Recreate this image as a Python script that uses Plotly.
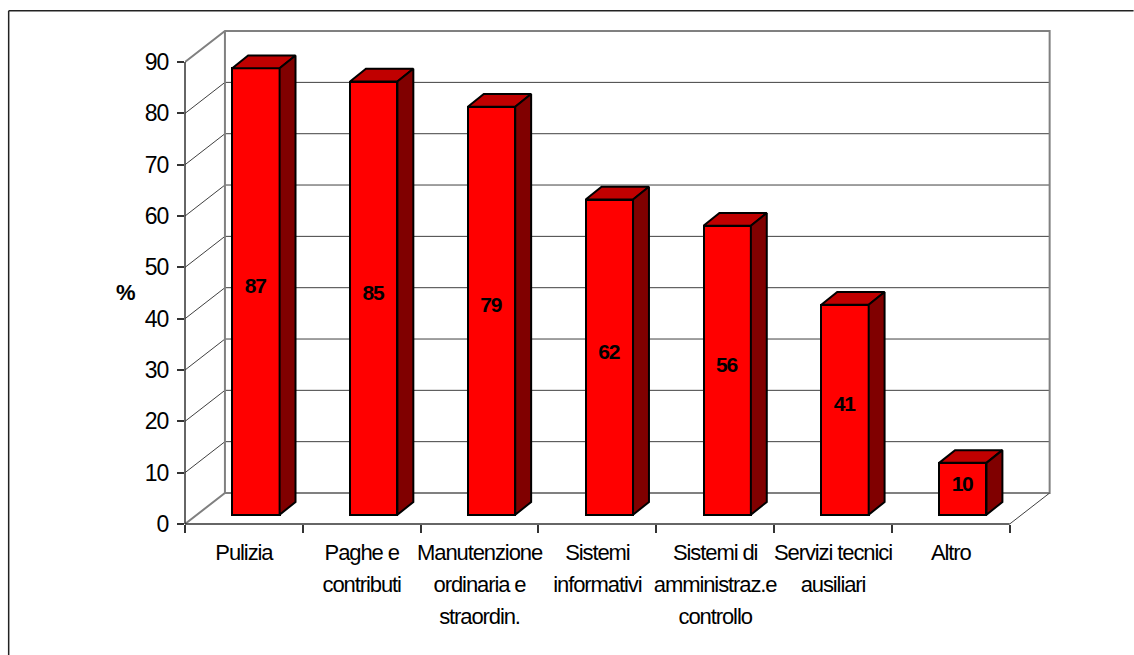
import plotly.graph_objects as go

categories = ["Pulizia", "Paghe e<br>contributi", "Manutenzione<br>ordinaria e<br>straordin.",
              "Sistemi<br>informativi", "Sistemi di<br>amministraz.e<br>controllo",
              "Servizi tecnici<br>ausiliari", "Altro"]
# drawn bar heights; printed labels differ slightly in the original
heights = [87.0, 84.4, 79.5, 61.4, 56.3, 40.9, 10.1]
labels = ["87", "85", "79", "62", "56", "41", "10"]
y_ticks = [0, 10, 20, 30, 40, 50, 60, 70, 80, 90]

# oblique projection, in axis units (x: one category = 1, y: percent)
WALL_DX, WALL_DY = 0.339, 6.04
FRONT_DX, FRONT_DY = 0.102, 1.81
BACK_DX, BACK_DY = 0.237, 4.29
BAR_W = 0.402
N = len(categories)
X_TOP = N + WALL_DX + 0.02
Y_TOP = 90 + WALL_DY + 0.4

PX_L, PX_B = 184.5, 524.0
PX_PER_X, PX_PER_Y = 117.93, 5.13
PLOT_W = X_TOP * PX_PER_X
PLOT_H = Y_TOP * PX_PER_Y

GRID = "#404040"
WALL = "#808080"
AXIS = "#333333"
fig = go.Figure()


def line(xs, ys, color, width):
    fig.add_trace(go.Scatter(x=xs, y=ys, mode="lines", xaxis="x", yaxis="y",
                             line=dict(color=color, width=width, simplify=False),
                             hoverinfo="skip", showlegend=False))


# left wall and back wall gridlines
for t in y_ticks[1:-1]:
    line([0, WALL_DX, N + WALL_DX], [t, t + WALL_DY, t + WALL_DY], GRID, 1)
# wall frame
line([0, WALL_DX, N + WALL_DX, N + WALL_DX, WALL_DX, 0],
     [90, 90 + WALL_DY, 90 + WALL_DY, WALL_DY, WALL_DY, 0], WALL, 2)
line([WALL_DX, WALL_DX], [WALL_DY, 90 + WALL_DY], WALL, 2)
line([N + WALL_DX, N], [WALL_DY, 0], GRID, 1)

# front faces, on the category axis
fig.add_trace(go.Bar(x=categories, y=heights, base=FRONT_DY, width=BAR_W, offset=FRONT_DX - BAR_W / 2,
                     xaxis="x2", yaxis="y", marker=dict(color="#FF0000", line=dict(color="#000000", width=2)),
                     showlegend=False, hovertemplate="%{x}: %{y}<extra></extra>"))

# top and side faces
for i, v in enumerate(heights):
    l = i + 0.5 + FRONT_DX - BAR_W / 2
    r = l + BAR_W
    top = v + FRONT_DY
    ddx, ddy = BACK_DX - FRONT_DX, BACK_DY - FRONT_DY
    for xs, ys, col in (
        ([l, l + ddx, r + ddx, r, l], [top, top + ddy, top + ddy, top, top], "#C00000"),
        ([r, r + ddx, r + ddx, r, r], [top, top + ddy, FRONT_DY + ddy, FRONT_DY, top], "#800000"),
    ):
        fig.add_trace(go.Scatter(x=xs, y=ys, mode="lines", fill="toself", fillcolor=col, xaxis="x3", yaxis="y",
                                 line=dict(color="#000000", width=2),
                                 hoverinfo="skip", showlegend=False))

fig.add_trace(go.Scatter(x=[i + 0.5 + FRONT_DX - 0.006 for i in range(N)], y=[v / 2 + 2.5 for v in heights],
                         text=labels, mode="text", xaxis="x3", yaxis="y",
                         textposition="middle center",
                         textfont=dict(family="Liberation Sans", size=21, color="#000000", weight="bold"),
                         hoverinfo="skip", showlegend=False))

fig.update_layout(
    width=1134, height=655, autosize=False,
    margin=dict(l=PX_L, r=1134 - PX_L - PLOT_W, t=PX_B - PLOT_H, b=655 - PX_B, pad=0),
    paper_bgcolor="#FFFFFF", plot_bgcolor="rgba(0,0,0,0)",
    font=dict(family="Liberation Sans", size=22, color="#000000"),
    bargap=0, showlegend=False,
    xaxis=dict(range=[0, X_TOP], visible=False, fixedrange=True),
    xaxis2=dict(overlaying="x", type="category", categoryorder="array", categoryarray=categories,
                range=[-0.5, X_TOP - 0.5], tickson="boundaries", ticks="outside", ticklen=8, tickwidth=1.5,
                tickcolor=AXIS, showline=False, showgrid=False, ticklabelstandoff=13,
                zeroline=False, tickangle=0, anchor="y", side="bottom", fixedrange=True),
    xaxis3=dict(overlaying="x", range=[0, X_TOP], visible=False, fixedrange=True),
    yaxis=dict(range=[0, Y_TOP], tickvals=y_ticks, ticks="outside", ticklen=7, tickwidth=1.5, tickcolor=AXIS,
               showline=False, showgrid=False, zeroline=False, ticklabelstandoff=4,
               tickfont=dict(size=23), fixedrange=True),
    annotations=[dict(text="<b>%</b>", xref="paper", yref="y", x=(125.5 - PX_L) / PLOT_W, y=45.2,
                      showarrow=False, font=dict(size=22), xanchor="center", yanchor="middle")],
    shapes=[
        # axis lines
        dict(type="line", xref="paper", yref="y", x0=0, x1=0, y0=0, y1=90, line=dict(color=AXIS, width=1.5)),
        dict(type="line", xref="x", yref="paper", x0=0, x1=N, y0=0, y1=0, line=dict(color=AXIS, width=1.5)),
        # outer frame
        dict(type="line", xref="paper", yref="paper", x0=(8 - PX_L) / PLOT_W, x1=(1134 - PX_L) / PLOT_W,
             y0=(PX_B - 11) / PLOT_H, y1=(PX_B - 11) / PLOT_H, line=dict(color="#222222", width=1.5)),
        dict(type="line", xref="paper", yref="paper", x0=(8 - PX_L) / PLOT_W, x1=(8 - PX_L) / PLOT_W,
             y0=(PX_B - 11) / PLOT_H, y1=(PX_B - 655) / PLOT_H, line=dict(color="#222222", width=1.5)),
    ],
)

post = """
document.body.style.margin='0';
var s=document.createElement('style');
s.textContent='.x2tick text{letter-spacing:-1.1px}.textpoint text{letter-spacing:-1.2px}.ytick text{letter-spacing:-1px}';
document.head.appendChild(s);
document.querySelectorAll('.x2tick text').forEach(function(t){
  t.querySelectorAll('tspan.line').forEach(function(l,i){l.setAttribute('dy',(i*32)+'px');});
});
"""
fig.write_html("out.html", config=dict(displayModeBar=False), post_script=post)
